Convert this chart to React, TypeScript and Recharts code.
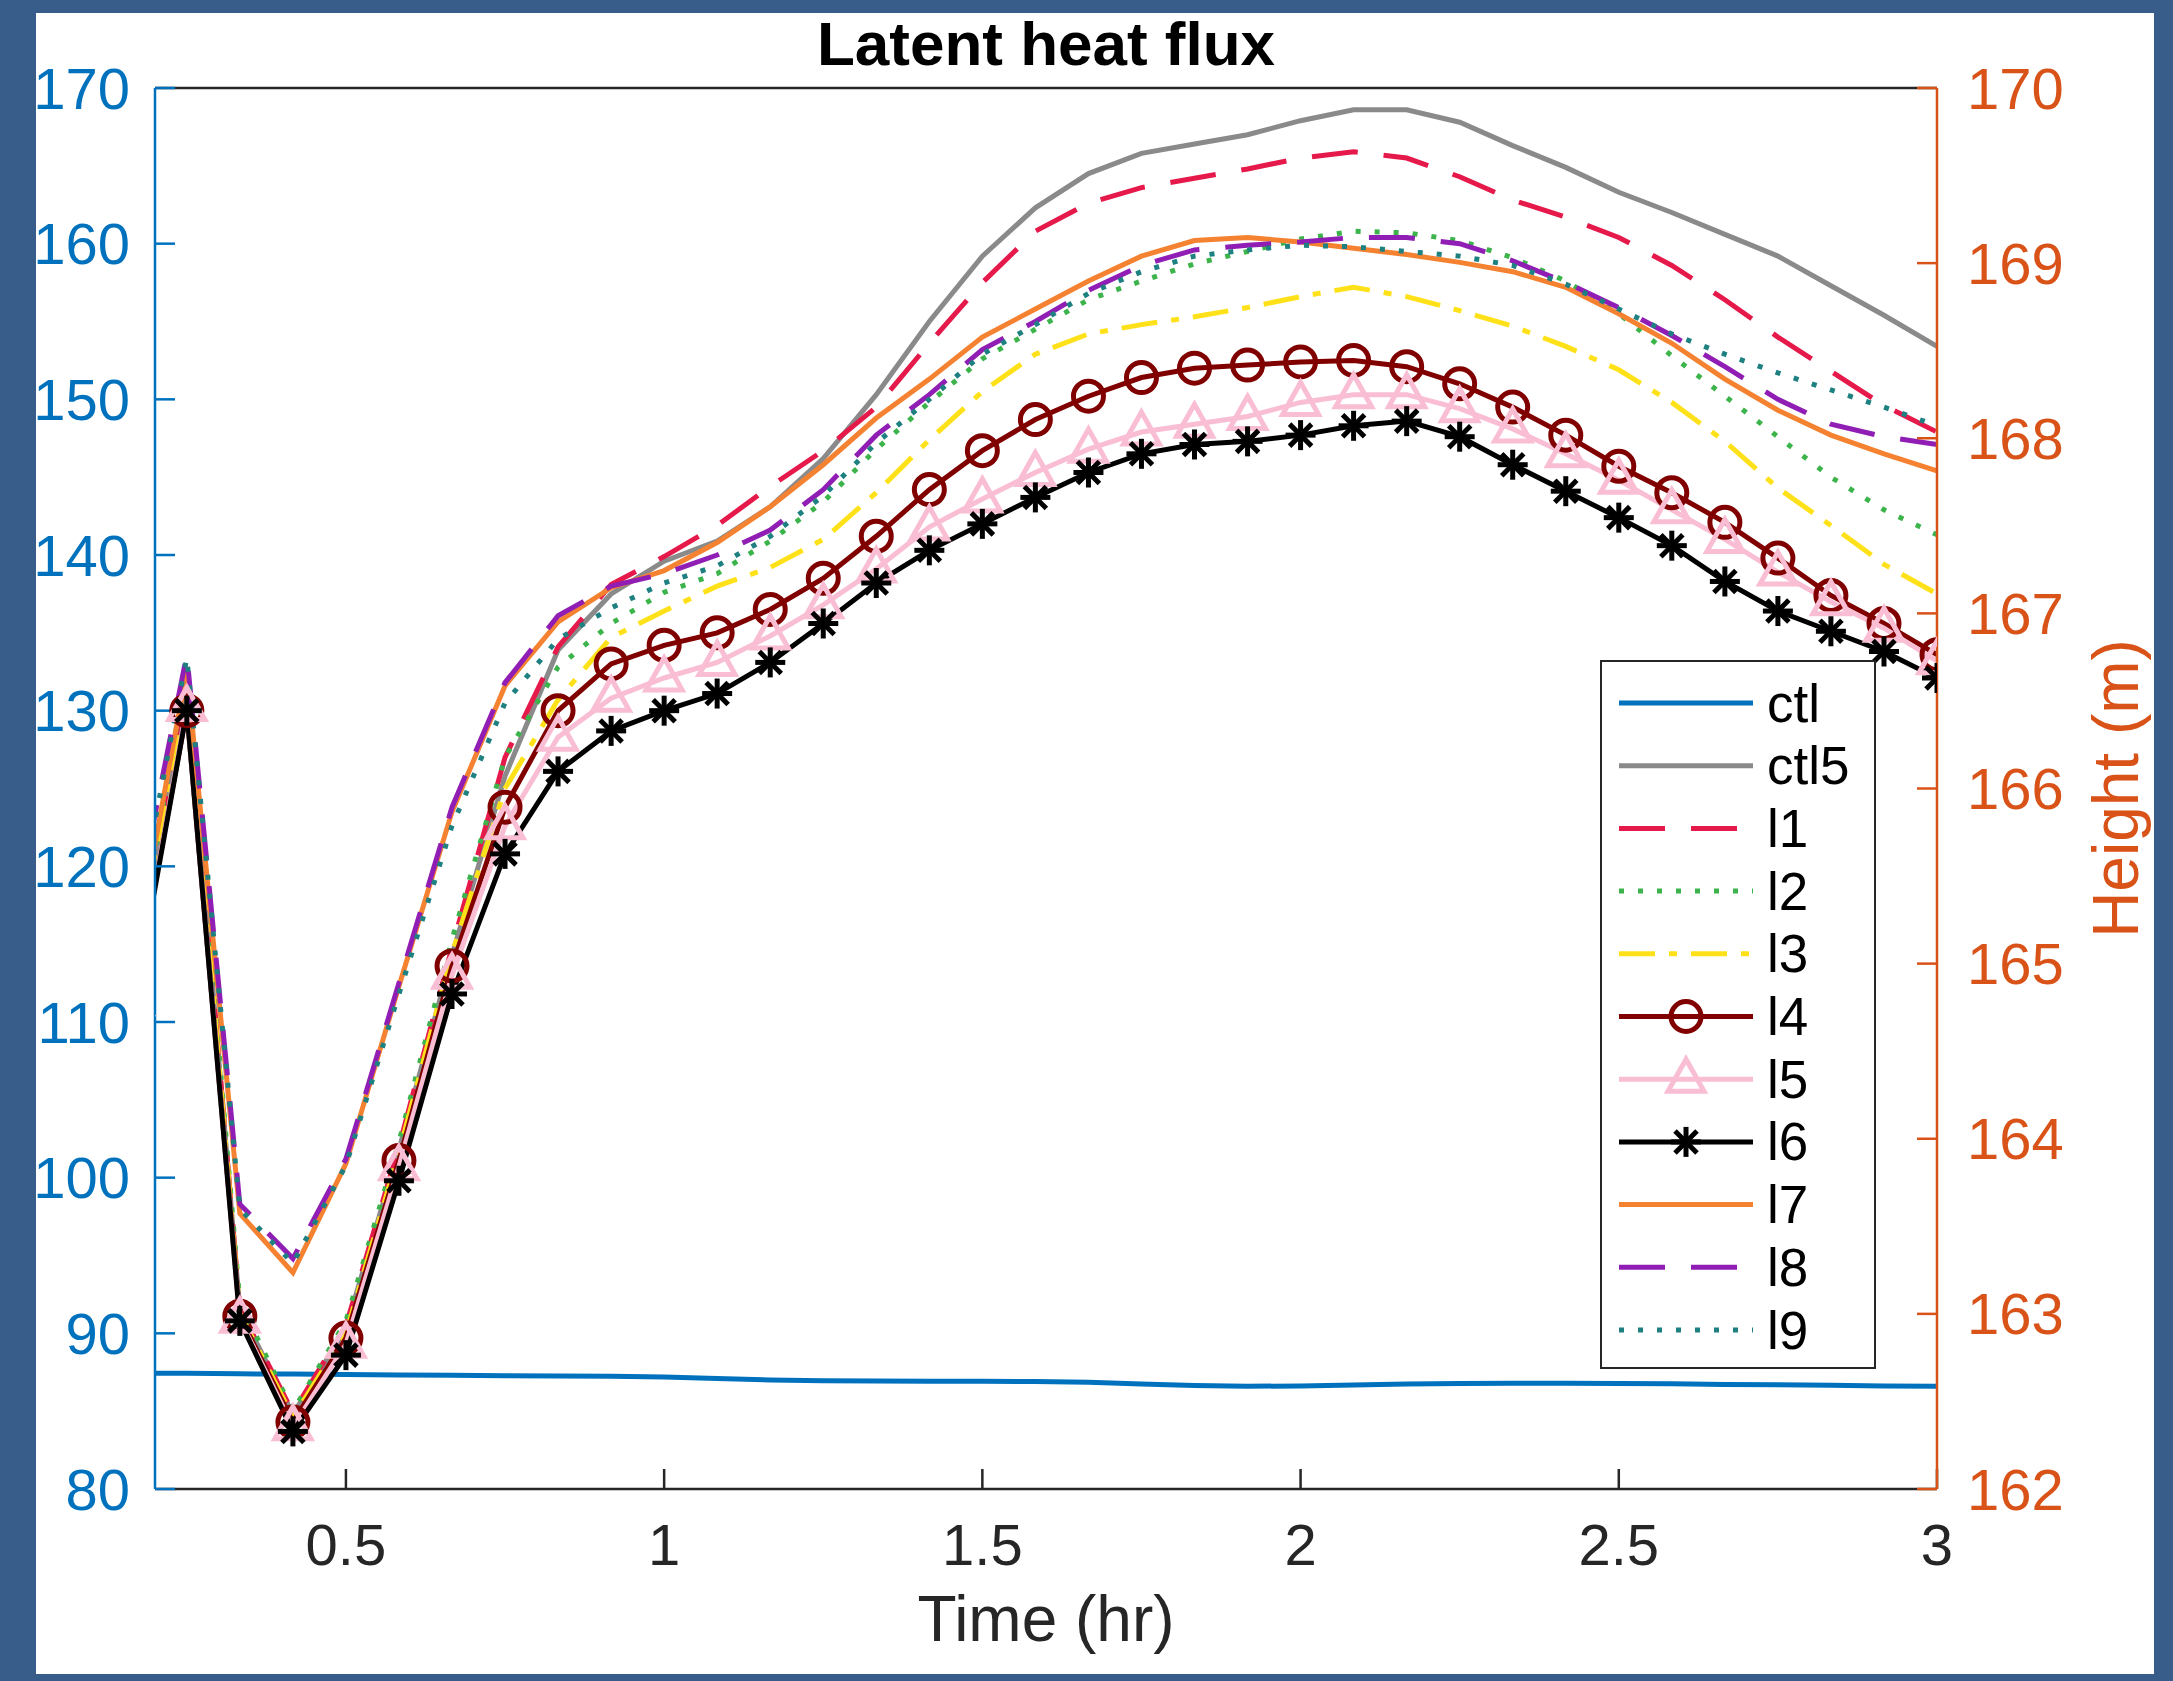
import React from "react";
import { LineChart, Line, XAxis, YAxis } from "recharts";

// time in hours, one sample every 5 min (first one sits just left of the axis)
const time = [
  0.1667, 0.25, 0.3333, 0.4167, 0.5, 0.5833, 0.6667, 0.75, 0.8333, 0.9167, 1.0, 1.0833,
  1.1667, 1.25, 1.3333, 1.4167, 1.5, 1.5833, 1.6667, 1.75, 1.8333, 1.9167, 2.0, 2.0833,
  2.1667, 2.25, 2.3333, 2.4167, 2.5, 2.5833, 2.6667, 2.75, 2.8333, 2.9167, 3.0,
];

const ctl = [
  87.45, 87.43, 87.4, 87.38, 87.35, 87.33, 87.3, 87.28, 87.26, 87.24, 87.2, 87.1, 87.0, 86.95,
  86.93, 86.92, 86.92, 86.9, 86.85, 86.75, 86.65, 86.6, 86.62, 86.68, 86.74, 86.78, 86.8, 86.8,
  86.78, 86.76, 86.72, 86.7, 86.66, 86.62, 86.6,
];
const ctl5 = [
  112.5, 132.0, 91.5, 84.8, 90.3, 101.8, 114.3, 125.8, 133.9, 137.5, 139.6, 140.9, 143.1, 146.2,
  150.3, 155.0, 159.2, 162.3, 164.5, 165.8, 166.4, 167.0, 167.9, 168.6, 168.6, 167.8, 166.3, 164.9,
  163.3, 162.0, 160.6, 159.2, 157.3, 155.4, 153.4,
];
const l1 = [
  112.5, 132.3, 91.6, 84.9, 90.5, 102.0, 114.8, 127.0, 134.1, 138.1, 139.9, 141.9, 144.4, 146.7,
  149.5, 153.6, 157.5, 160.8, 162.6, 163.6, 164.2, 164.8, 165.5, 165.9, 165.5, 164.3, 162.8, 161.7,
  160.4, 158.6, 156.4, 154.0, 151.8, 149.6, 147.9,
];
const l2 = [
  113.0, 132.8, 92.0, 85.0, 90.8, 102.3, 115.3, 127.0, 132.8, 135.6, 137.6, 138.8, 140.9, 143.4,
  146.8, 149.8, 152.6, 154.5, 156.4, 157.6, 158.7, 159.5, 160.3, 160.8, 160.7, 160.2, 159.1, 157.6,
  155.5, 152.8, 150.2, 147.6, 145.0, 142.9, 141.3,
];
const l3 = [
  112.5, 132.0, 91.3, 84.6, 90.0, 101.6, 114.4, 125.0, 130.7, 134.7, 136.4, 138.0, 139.2, 141.0,
  144.0, 147.4, 150.5, 152.9, 154.2, 154.8, 155.3, 155.9, 156.6, 157.2, 156.6, 155.7, 154.7, 153.4,
  151.9, 149.8, 147.3, 144.3, 141.9, 139.4, 137.5,
];
const l4 = [
  111.5, 130.0, 91.1, 84.3, 89.7, 101.1, 113.6, 123.8, 130.0, 133.0, 134.2, 135.0, 136.5, 138.5,
  141.2, 144.2, 146.7, 148.7, 150.2, 151.4, 152.0, 152.2, 152.4, 152.5, 152.1, 151.0, 149.5, 147.7,
  145.7, 144.0, 142.1, 139.8, 137.4, 135.6, 133.6,
];
const l5 = [
  111.3, 130.2, 90.9, 84.0, 89.3, 100.7, 113.0, 122.6, 128.3, 130.8, 132.1, 133.1, 134.8, 136.8,
  139.1, 141.8, 143.6, 145.3, 146.8, 147.9, 148.4, 148.9, 149.8, 150.3, 150.3, 149.4, 148.1, 146.5,
  144.8, 142.9, 141.0, 138.9, 137.0, 135.3, 133.2,
];
const l6 = [
  111.0, 130.0, 90.8, 83.7, 88.6, 99.8, 111.8, 120.8, 126.1, 128.7, 130.0, 131.1, 133.1, 135.6,
  138.2, 140.3, 142.0, 143.7, 145.3, 146.5, 147.1, 147.3, 147.7, 148.3, 148.6, 147.6, 145.8, 144.1,
  142.4, 140.6, 138.3, 136.4, 135.1, 133.8, 132.1,
];
const l7 = [
  114.0, 132.6, 97.7, 93.9, 100.9, 112.3, 123.5, 131.6, 135.7, 137.9, 139.0, 140.8, 143.1, 145.8,
  148.8, 151.3, 154.0, 155.8, 157.6, 159.2, 160.2, 160.4, 160.1, 159.7, 159.3, 158.8, 158.2, 157.2,
  155.5, 153.6, 151.3, 149.3, 147.7, 146.5, 145.4,
];
const l8 = [
  116.5, 133.6, 98.3, 94.8, 101.2, 112.5, 123.8, 131.8, 136.1, 138.0, 138.8, 140.0, 141.6, 144.2,
  147.7, 150.3, 153.2, 155.0, 157.0, 158.6, 159.6, 159.9, 160.1, 160.4, 160.4, 160.0, 158.9, 157.5,
  155.9, 154.1, 152.1, 150.0, 148.4, 147.6, 147.1,
];
const l9 = [
  116.0, 133.4, 98.0, 94.5, 100.8, 111.8, 122.6, 130.5, 134.6, 136.6, 138.2, 139.3, 141.2, 143.8,
  147.2, 150.0, 152.9, 154.8, 156.8, 158.2, 159.2, 159.6, 159.9, 159.8, 159.5, 159.2, 158.6, 157.4,
  155.8, 154.2, 152.9, 151.7, 150.6, 149.5, 148.3,
];

const xTicks = [0.5, 1, 1.5, 2, 2.5, 3];
const leftTicks = [80, 90, 100, 110, 120, 130, 140, 150, 160, 170];
const rightTicks = [162, 163, 164, 165, 166, 167, 168, 169, 170];

const FONT = "'Liberation Sans', Arial, Helvetica, sans-serif";
const BLUE = "#0072BD";
const ORANGE = "#D95319";
const AX = "#262626";

// plot box in page pixels
const PL = 155;
const PR = 1937;
const PT = 88;
const PB = 1489;

type Marker = "none" | "circle" | "triangle" | "star";

const series: { key: string; values: number[]; color: string; dash?: string; marker: Marker }[] = [
  { key: "ctl", values: ctl, color: BLUE, marker: "none" },
  { key: "ctl5", values: ctl5, color: "#8a8a8a", marker: "none" },
  { key: "l1", values: l1, color: "#e6194B", dash: "46 26", marker: "none" },
  { key: "l2", values: l2, color: "#3cb44b", dash: "5 14", marker: "none" },
  { key: "l3", values: l3, color: "#ffe119", dash: "36 14 8 14", marker: "none" },
  { key: "l4", values: l4, color: "#800000", marker: "circle" },
  { key: "l5", values: l5, color: "#fabed4", marker: "triangle" },
  { key: "l6", values: l6, color: "#000000", marker: "star" },
  { key: "l7", values: l7, color: "#f58231", marker: "none" },
  { key: "l8", values: l8, color: "#911eb4", dash: "46 26", marker: "none" },
  { key: "l9", values: l9, color: "#1e8080", dash: "5 14", marker: "none" },
];

const rows = time.map((t, i) => {
  const r: Record<string, number> = { t };
  series.forEach((s) => (r[s.key] = s.values[i]));
  return r;
});

function markerShape(kind: Marker, cx: number, cy: number, color: string, key?: React.Key) {
  if (kind === "circle") {
    return <circle key={key} cx={cx} cy={cy} r={15} fill="none" stroke={color} strokeWidth={5} />;
  }
  if (kind === "triangle") {
    return (
      <polygon
        key={key}
        points={`${cx},${cy - 20} ${cx - 18},${cy + 12} ${cx + 18},${cy + 12}`}
        fill="none"
        stroke={color}
        strokeWidth={5}
        strokeLinejoin="miter"
      />
    );
  }
  if (kind === "star") {
    return (
      <g key={key} stroke={color} strokeWidth={5}>
        <line x1={cx - 15} y1={cy} x2={cx + 15} y2={cy} />
        <line x1={cx} y1={cy - 15} x2={cx} y2={cy + 15} />
        <line x1={cx - 11} y1={cy - 11} x2={cx + 11} y2={cy + 11} />
        <line x1={cx - 11} y1={cy + 11} x2={cx + 11} y2={cy - 11} />
      </g>
    );
  }
  return <g key={key} />;
}

function dotFor(kind: Marker, color: string) {
  if (kind === "none") return false;
  return (p: any) => {
    if (p.cx == null || p.cy == null) return <g key={p.index} />;
    return markerShape(kind, p.cx, p.cy, color, p.index);
  };
}

function LegendBox() {
  const x0 = 1601;
  const y0 = 661;
  return (
    <g>
      <rect x={x0} y={y0} width={274} height={707} fill="#fff" stroke={AX} strokeWidth={2} />
      {series.map((s, i) => {
        const cy = y0 + 42 + i * 62.7;
        return (
          <g key={s.key}>
            <line x1={x0 + 18} y1={cy} x2={x0 + 152} y2={cy} stroke={s.color} strokeWidth={5} strokeDasharray={s.dash} />
            {markerShape(s.marker, x0 + 85, cy, s.color)}
            <text x={x0 + 166} y={cy} dominantBaseline="central" fontSize={53} fill="#000" fontFamily={FONT}>
              {s.key}
            </text>
          </g>
        );
      })}
    </g>
  );
}

export default function App() {
  return (
    <div style={{ position: "absolute", left: 0, top: 0, width: 2173, height: 1681, background: "#385d8a", overflow: "hidden" }}>
      <div style={{ position: "absolute", left: 36, top: 13, width: 2118, height: 1661, background: "#ffffff" }} />
      <div style={{ position: "absolute", left: 0, top: 0 }}>
        <LineChart
          width={2173}
          height={1681}
          data={rows}
          margin={{ top: PT - 1, right: 2173 - PR - 100, bottom: 1681 - PB - 60, left: PL - 100 }}
          style={{ fontFamily: FONT }}
        >
          <XAxis
            xAxisId="bottom"
            dataKey="t"
            type="number"
            domain={[0.2, 3]}
            allowDataOverflow
            ticks={xTicks}
            interval={0}
            height={60}
            stroke={AX}
            strokeWidth={2.5}
            tickSize={-20}
            tickMargin={55}
            tick={{ fill: AX, fontSize: 58 }}
          />
          <XAxis
            xAxisId="top"
            orientation="top"
            dataKey="t"
            type="number"
            domain={[0.2, 3]}
            allowDataOverflow
            ticks={xTicks}
            interval={0}
            height={1}
            stroke={AX}
            strokeWidth={2.5}
            tickSize={-20}
            tick={false}
          />
          <YAxis
            yAxisId="left"
            type="number"
            domain={[80, 170]}
            allowDataOverflow
            ticks={leftTicks}
            interval={0}
            width={100}
            stroke={BLUE}
            strokeWidth={2.5}
            tickSize={-20}
            tickMargin={45}
            tick={{ fill: BLUE, fontSize: 58 }}
          />
          <YAxis
            yAxisId="right"
            orientation="right"
            type="number"
            domain={[162, 170]}
            allowDataOverflow
            ticks={rightTicks}
            interval={0}
            width={100}
            stroke={ORANGE}
            strokeWidth={2.5}
            tickSize={-20}
            tickMargin={50}
            tick={{ fill: ORANGE, fontSize: 58 }}
          />
          {series.map((s) => (
            <Line
              key={s.key}
              xAxisId="bottom"
              yAxisId="left"
              dataKey={s.key}
              type="linear"
              stroke={s.color}
              strokeWidth={5}
              strokeDasharray={s.dash}
              dot={dotFor(s.marker, s.color)}
              activeDot={false}
              isAnimationActive={false}
            />
          ))}
        </LineChart>
      </div>
      <svg width={2173} height={1681} style={{ position: "absolute", left: 0, top: 0, pointerEvents: "none" }}>
        <text x={(PL + PR) / 2} y={65} textAnchor="middle" fontSize={62} fontWeight="bold" fill="#000" fontFamily={FONT}>
          Latent heat flux
        </text>
        <text x={(PL + PR) / 2} y={1641} textAnchor="middle" fontSize={64} fill={AX} fontFamily={FONT}>
          Time (hr)
        </text>
        <text
          x={2116}
          y={(PT + PB) / 2}
          textAnchor="middle"
          dominantBaseline="central"
          fontSize={64}
          fill={ORANGE}
          fontFamily={FONT}
          transform={`rotate(-90 2116 ${(PT + PB) / 2})`}
        >
          Height (m)
        </text>
        <LegendBox />
      </svg>
    </div>
  );
}
